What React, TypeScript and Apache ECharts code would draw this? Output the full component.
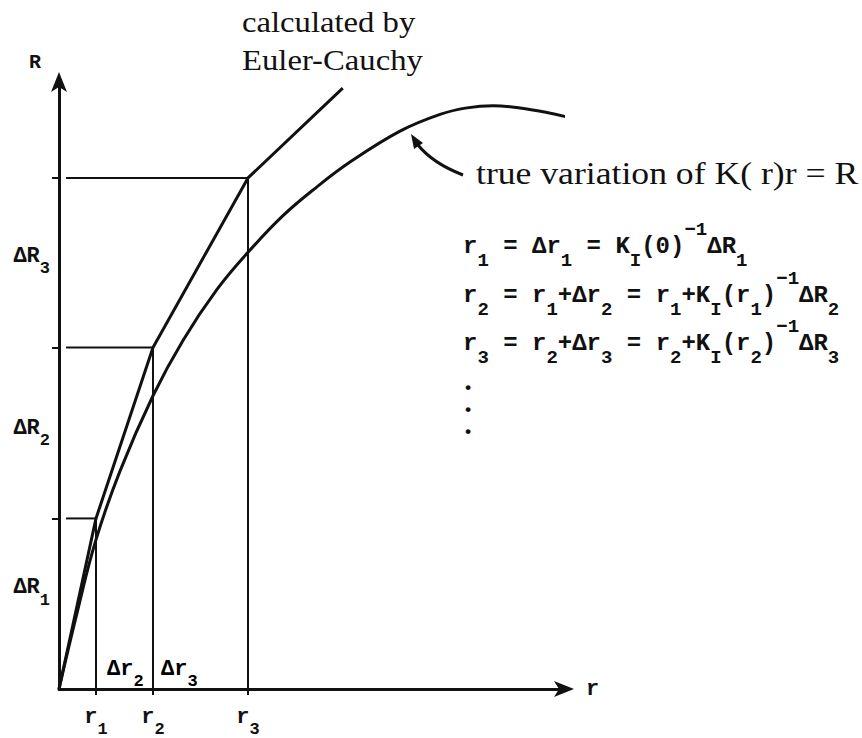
import React, { useEffect, useRef } from "react";
import * as echarts from "echarts";

// ---- data (arbitrary units: r along x, R along y, both 0..100) ----
const rSteps = [7.34, 18.65, 37.5]; // r1, r2, r3
const rSubs = ["1", "2", "3"];
const RLevels = [28.1, 56.25, 84.2]; // cumulative R after each ΔR step
const dRLabelPos = [16.9, 43.2, 71.5]; // where ΔR_i labels sit on the R axis
const dRSubs = ["1", "2", "3"];
const eulerTail = [56.3, 99.0]; // continuation of the Euler-Cauchy polyline beyond r3
const guideStart = 1.4; // horizontal guide lines start just right of the R axis
const curveX = [0, 3.57, 7.34, 12.1, 18.65, 24.6, 31.35, 37.5, 44.44, 51.19, 57.74, 67.66, 75.6, 80.95, 86.11, 91.47, 96.83, 101.39];
const curveY = [0, 12.5, 24.6, 35.9, 48.31, 57.43, 65.82, 71.94, 77.98, 82.73, 86.81, 91.91, 94.67, 95.74, 96.09, 95.72, 94.97, 94.13];

const INK = "#111111";
const MONO = '"Liberation Mono", "DejaVu Sans Mono", monospace';
const SERIF = '"Liberation Serif", "DejaVu Serif", serif';

// rich styles for typewriter-like formulas: m = main, s = subscript, p = superscript
function monoRich(M: number, S: number) {
  const pm = Math.max(0, Math.round(0.8 * S - 0.05 * M));
  const ps = Math.round(pm + 0.8 * M - 0.14 * S);
  const pp = Math.max(0, Math.round(pm + 0.05 * M - 0.8 * S));
  const base = { fontFamily: MONO, fontWeight: "bold", color: INK, verticalAlign: "top" };
  return {
    m: { ...base, fontSize: M, padding: [pm, 0, 0, 0] },
    s: { ...base, fontSize: S, padding: [ps, 0, 0, 0] },
    p: { ...base, fontSize: S, padding: [pp, 0, 0, 0] },
  };
}

function nearestIndex(arr: number[], v: number) {
  let best = 0;
  for (let i = 1; i < arr.length; i++) if (Math.abs(arr[i] - v) < Math.abs(arr[best] - v)) best = i;
  return best;
}

const formulaRows = [
  "{m|r}{s|1}{m| = Δr}{s|1}{m| = K}{s|I}{m|(0)}{p|−1}{m|ΔR}{s|1}",
  "{m|r}{s|2}{m| = r}{s|1}{m|+Δr}{s|2}{m| = r}{s|1}{m|+K}{s|I}{m|(r}{s|1}{m|)}{p|−1}{m|ΔR}{s|2}",
  "{m|r}{s|3}{m| = r}{s|2}{m|+Δr}{s|3}{m| = r}{s|2}{m|+K}{s|I}{m|(r}{s|2}{m|)}{p|−1}{m|ΔR}{s|3}",
];
const formulaTops = [220, 269, 317];

function buildOption() {
  const guideSeries: any[] = [];
  rSteps.forEach((r, i) => {
    guideSeries.push({
      type: "line",
      data: [[guideStart, RLevels[i]], [r, RLevels[i]]],
      symbol: "none",
      lineStyle: { color: INK, width: 2 },
      clip: false,
      silent: true,
    });
    guideSeries.push({
      type: "line",
      data: [[r, 0], [r, RLevels[i]]],
      symbol: "none",
      lineStyle: { color: INK, width: 2 },
      clip: false,
      silent: true,
    });
  });

  const eulerData = [[0, 0], ...rSteps.map((r, i) => [r, RLevels[i]]), eulerTail];
  const curveData = curveX.map((x, i) => [x, curveY[i]]);
  const labelRich = monoRich(22, 17);

  const formulaTexts = formulaRows.map((t, i) => ({
    type: "text",
    x: 463,
    y: formulaTops[i],
    style: { text: t, rich: monoRich(24, 19), fill: INK, verticalAlign: "top", align: "left" },
  }));

  return {
    animation: false,
    backgroundColor: "#ffffff",
    grid: { left: 59, right: 299, top: 82, bottom: 48, containLabel: false },
    xAxis: {
      type: "value",
      min: 0,
      max: 100,
      name: "r",
      nameLocation: "end",
      nameGap: 23,
      nameTextStyle: { fontFamily: MONO, fontSize: 22, fontWeight: "bold", color: INK, verticalAlign: "middle", align: "left" },
      axisLine: {
        show: true,
        onZero: false,
        symbol: ["none", "arrow"],
        symbolSize: [12, 20],
        symbolOffset: [0, 11],
        lineStyle: { color: INK, width: 3 },
      },
      axisTick: { show: true, customValues: rSteps, length: 6, lineStyle: { color: INK, width: 2 } },
      axisLabel: {
        show: true,
        customValues: rSteps,
        margin: 4,
        formatter: (v: number) => `{m|r}{s|${rSubs[nearestIndex(rSteps, v)]}}`,
        rich: labelRich,
      },
      splitLine: { show: false },
    },
    yAxis: {
      type: "value",
      min: 0,
      max: 100,
      name: "R",
      nameLocation: "end",
      nameGap: 10,
      nameTextStyle: { fontFamily: MONO, fontSize: 20, fontWeight: "bold", color: INK, align: "right", padding: [0, 18, 0, 0] },
      axisLine: {
        show: true,
        onZero: false,
        symbol: ["none", "arrow"],
        symbolSize: [12, 20],
        symbolOffset: [0, 10],
        lineStyle: { color: INK, width: 3 },
      },
      axisTick: { show: true, customValues: RLevels, length: 7, lineStyle: { color: INK, width: 2 } },
      axisLabel: {
        show: true,
        customValues: dRLabelPos,
        margin: 9,
        formatter: (v: number) => `{m|ΔR}{s|${dRSubs[nearestIndex(dRLabelPos, v)]}}`,
        rich: labelRich,
      },
      splitLine: { show: false },
    },
    series: [
      ...guideSeries,
      {
        type: "line",
        name: "Euler-Cauchy",
        data: eulerData,
        symbol: "none",
        lineStyle: { color: INK, width: 3 },
        clip: false,
        silent: true,
      },
      {
        type: "line",
        name: "true",
        data: curveData,
        smooth: 0.4,
        symbol: "none",
        lineStyle: { color: INK, width: 3 },
        clip: false,
        silent: true,
      },
    ],
    graphic: [
      {
        type: "text",
        x: 242,
        y: 3,
        scaleX: 1.09,
        style: { text: "calculated by\nEuler-Cauchy", font: `30px ${SERIF}`, fill: INK, lineHeight: 38, align: "left", verticalAlign: "top" },
      },
      {
        type: "text",
        x: 476,
        y: 158,
        scaleX: 1.15,
        style: { text: "true variation of K( r)r = R", font: `31px ${SERIF}`, fill: INK, align: "left", verticalAlign: "top" },
      },
      {
        type: "bezierCurve",
        shape: { x1: 463, y1: 175, cpx1: 440, cpy1: 166, x2: 418, y2: 145, cpx2: 426, cpy2: 155 },
        style: { stroke: INK, lineWidth: 3, fill: "none" },
      },
      {
        type: "polygon",
        shape: { points: [[411, 134], [423, 143], [414, 149]] },
        style: { fill: INK },
      },
      ...formulaTexts,
      {
        type: "text",
        x: 463,
        y: 377,
        style: { text: "•\n•\n•", font: `bold 17px ${MONO}`, fill: INK, lineHeight: 22, align: "left", verticalAlign: "top" },
      },
      {
        type: "text",
        x: 107,
        y: 645,
        style: { text: "{m|Δr}{s|2}", rich: labelRich, verticalAlign: "top" },
      },
      {
        type: "text",
        x: 161,
        y: 645,
        style: { text: "{m|Δr}{s|3}", rich: labelRich, verticalAlign: "top" },
      },
    ],
  };
}

export default function App() {
  const ref = useRef<HTMLDivElement>(null);
  useEffect(() => {
    if (!ref.current) return;
    const chart = echarts.init(ref.current, null, { renderer: "svg" });
    chart.setOption(buildOption() as any);
    return () => chart.dispose();
  }, []);
  return (
    <div
      ref={ref}
      style={{ position: "fixed", left: 0, top: 0, width: 862, height: 738, background: "#ffffff" }}
    />
  );
}
